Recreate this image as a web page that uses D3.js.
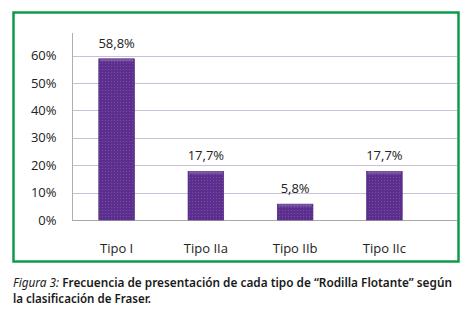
<!DOCTYPE html>
<html>
<head>
<meta charset="utf-8">
<script src="https://cdn.jsdelivr.net/npm/d3@7"></script>
<style>
body{margin:0;background:#fff}
</style>
</head>
<body>
<script>
const categories=["Tipo I","Tipo IIa","Tipo IIb","Tipo IIc"]
const values=[58.8,17.7,5.8,17.7]
const valueLabels=["58,8%","17,7%","5,8%","17,7%"]
const yTicks=[0,10,20,30,40,50,60]

const svg=d3.select("body")
            .append("svg")
            .attr("width",474)
            .attr("height",317)

// green frame
svg.append("rect")
   .attr("x",13.5).attr("y",12.5)
   .attr("width",445).attr("height",249)
   .attr("fill","none")
   .attr("stroke","#0f9a4a")
   .attr("stroke-width",2.5)

const defs=svg.append("defs")
const pat=defs.append("pattern")
   .attr("id","dots")
   .attr("width",3).attr("height",3)
   .attr("patternUnits","userSpaceOnUse")
pat.append("rect").attr("width",3).attr("height",3).attr("fill","#5c2f8f")
pat.append("rect").attr("width",1).attr("height",1).attr("fill","#7451a3")

const grad=defs.append("linearGradient")
   .attr("id","edge").attr("x1",0).attr("x2",0).attr("y1",0).attr("y2",1)
grad.append("stop").attr("offset","0").attr("stop-color","#a58bc9").attr("stop-opacity",0.6)
grad.append("stop").attr("offset","1").attr("stop-color","#a58bc9").attr("stop-opacity",0)

const yscale=d3.scaleLinear()
               .domain([0,60])
               .range([220,55.5])

const xscale=d3.scaleBand()
               .domain(categories)
               .range([72,429])
               .paddingInner(0.6)
               .paddingOuter(0.3)

// gridlines
svg.append("g")
   .selectAll("line")
   .data(yTicks.filter(d=>d>0))
   .enter()
   .append("line")
   .attr("x1",72).attr("x2",457)
   .attr("y1",d=>Math.round(yscale(d))+0.5)
   .attr("y2",d=>Math.round(yscale(d))+0.5)
   .attr("stroke","#c9c0d8")
   .attr("stroke-width",1)

// y axis
const yaxis=svg.append("g")
   .attr("transform","translate(72.5,0)")
   .call(d3.axisLeft(yscale).tickValues(yTicks).tickFormat(d=>d+"%").tickSize(0).tickPadding(16))
yaxis.select(".domain").attr("stroke","#b0b0b0").attr("d","M0,33V220")
yaxis.selectAll("text")
     .attr("font-family","'Open Sans',sans-serif")
     .attr("font-size","13px")
     .attr("fill","#222")

// x axis baseline
svg.append("line")
   .attr("x1",72).attr("x2",457)
   .attr("y1",220.5).attr("y2",220.5)
   .attr("stroke","#a8a8a8")

// bars
const bars=svg.append("g")
bars.selectAll("rect.bar")
    .data(values)
    .enter()
    .append("rect")
    .attr("class","bar")
    .attr("x",(d,i)=>xscale(categories[i]))
    .attr("y",d=>yscale(d))
    .attr("width",xscale.bandwidth())
    .attr("height",d=>yscale(0)-yscale(d))
    .attr("fill","url(#dots)")
    .attr("stroke","#4a2278")
    .attr("stroke-width",0.6)
bars.selectAll("rect.top")
    .data(values)
    .enter()
    .append("rect")
    .attr("class","top")
    .attr("x",(d,i)=>xscale(categories[i])+1)
    .attr("y",d=>yscale(d)+0.5)
    .attr("width",xscale.bandwidth()-2)
    .attr("height",3)
    .attr("fill","url(#edge)")

// value labels
svg.append("g")
   .selectAll("text")
   .data(values)
   .enter()
   .append("text")
   .attr("x",(d,i)=>xscale(categories[i])+xscale.bandwidth()/2)
   .attr("y",d=>yscale(d)-11)
   .attr("text-anchor","middle")
   .attr("font-family","'Open Sans',sans-serif")
   .attr("font-size","13px")
   .attr("fill","#222")
   .text((d,i)=>valueLabels[i])

// category labels
svg.append("g")
   .selectAll("text")
   .data(categories)
   .enter()
   .append("text")
   .attr("x",d=>xscale(d)+xscale.bandwidth()/2)
   .attr("y",253)
   .attr("text-anchor","middle")
   .attr("font-family","'Open Sans',sans-serif")
   .attr("font-size","13px")
   .attr("fill","#222")
   .text(d=>d)

// caption
const cap=svg.append("text")
   .attr("x",13)
   .attr("y",287)
   .attr("font-family","'Noto Sans',sans-serif")
   .attr("font-size","12.5px")
   .attr("font-weight","600")
   .attr("fill","#1a1a1a")
   .attr("textLength",439)
   .attr("lengthAdjust","spacingAndGlyphs")
cap.append("tspan").attr("font-style","italic").attr("font-weight","400").text("Figura 3:")
cap.append("tspan").text(" Frecuencia de presentación de cada tipo de “Rodilla Flotante” según")

svg.append("text")
   .attr("x",13)
   .attr("y",303)
   .attr("font-family","'Noto Sans',sans-serif")
   .attr("font-size","12.5px")
   .attr("font-weight","600")
   .attr("fill","#1a1a1a")
   .attr("textLength",138)
   .attr("lengthAdjust","spacingAndGlyphs")
   .text("la clasificación de Fraser.")
</script>
</body>
</html>
